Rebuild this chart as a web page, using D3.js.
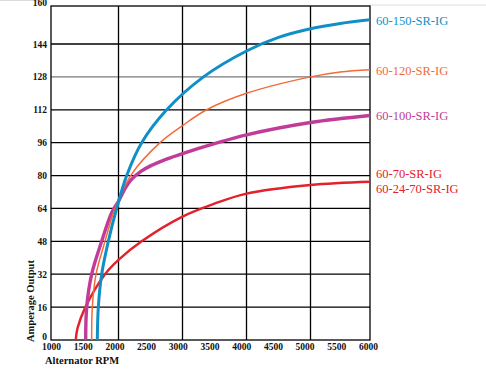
<!DOCTYPE html>
<html>
<head>
<meta charset="utf-8">
<script src="https://cdn.jsdelivr.net/npm/d3@7"></script>
<style>
  body { margin: 0; background: #fff; }
  svg { display: block; }
</style>
</head>
<body>
<script>
// Amperage output vs alternator RPM, one curve per alternator model
var rpm150 = [1686, 1701, 1751, 1849, 1973, 2128, 2362, 2753, 3328, 4000, 4500, 5000, 5500, 6000]
var amp150 = [0, 16, 32, 48, 64, 80, 96, 112, 128, 140.6, 146.5, 149.8, 151.8, 153.2]

var rpm120 = [1603, 1612, 1667, 1800, 1948, 2190, 2648, 3000, 3378, 4000, 5000, 5500, 6000]
var amp120 = [0, 16, 32, 48, 64, 80, 96, 104.3, 112, 120, 128, 130.4, 131.5]

var rpm100 = [1514, 1529, 1603, 1751, 1900, 2000, 2100, 2200, 2350, 2500, 2750, 3000, 3500, 4000, 5000, 6000]
var amp100 = [0, 16, 32, 48, 62, 67.5, 73.5, 78, 82, 84.7, 88, 90.7, 95.5, 99.8, 105.8, 109.2]

var rpm70 = [1366, 1395, 1510, 1800, 2000, 2362, 3000, 3500, 4000, 5000, 6000]
var amp70 = [0, 6, 16, 32, 39, 48, 60, 66.3, 71.2, 75.4, 77]

var seriesNames = ['60-150-SR-IG', '60-120-SR-IG', '60-100-SR-IG', '60-70-SR-IG', '60-24-70-SR-IG']
var rpmTicks = [1000, 1500, 2000, 2500, 3000, 3500, 4000, 4500, 5000, 5500, 6000]
var rpmGrid = [2000, 3000, 4000, 5000]
var ampTicks = [0, 16, 32, 48, 64, 80, 96, 112, 128, 144, 160]

var settings = {
  width: 486,
  height: 381,
  left: 51,
  right: 370,
  top: 6,
  bottom: 340
}

var svg = d3.select('body').append('svg')
    .attr('width', settings.width).attr('height', settings.height)

// grid / curves scale (the printed grid is slightly uneven)
var x = d3.scaleLinear()
    .domain([1000, 2000, 3000, 4000, 5000, 6000])
    .range([51, 118.5, 182.5, 246.5, 310.5, 370])
// tick label scale
var xLab = d3.scaleLinear().domain([1000, 6000]).range([51, 368])
var y = d3.scaleLinear().domain([0, 144, 160]).range([340, 44, 2])

// faint page rules at the very top
svg.append('line').attr('x1', 0).attr('x2', 42).attr('y1', 0.5).attr('y2', 0.5)
    .attr('stroke', '#dcdcdc').attr('stroke-width', 1)
svg.append('line').attr('x1', settings.right).attr('x2', settings.width).attr('y1', 5).attr('y2', 5)
    .attr('stroke', '#dcdcdc').attr('stroke-width', 1)

// horizontal grid lines
svg.append('g').selectAll('line')
    .data(ampTicks.filter(function(d){ return d > 0 && d < 160 }))
    .enter().append('line')
    .attr('x1', settings.left).attr('x2', settings.right)
    .attr('y1', function(d){ return y(d) }).attr('y2', function(d){ return y(d) })
    .attr('stroke', function(d){ return d == 128 ? '#7a7a7a' : '#000' })
    .attr('stroke-width', function(d){ return d == 128 ? 1.4 : 1.3 })

// vertical grid lines
svg.append('g').selectAll('line')
    .data(rpmGrid)
    .enter().append('line')
    .attr('x1', function(d){ return x(d) }).attr('x2', function(d){ return x(d) })
    .attr('y1', settings.top).attr('y2', settings.bottom)
    .attr('stroke', '#000').attr('stroke-width', 1.3)

// plot frame
svg.append('rect')
    .attr('x', settings.left).attr('y', settings.top)
    .attr('width', settings.right - settings.left).attr('height', settings.bottom - settings.top)
    .attr('fill', 'none').attr('stroke', '#000').attr('stroke-width', 1.3)

svg.append('clipPath').attr('id', 'plot-clip')
  .append('rect')
    .attr('x', settings.left).attr('y', settings.top)
    .attr('width', settings.right - settings.left).attr('height', settings.bottom - settings.top + 2)

var line = d3.line()
    .x(function(d){ return x(d[0]) })
    .y(function(d){ return y(d[1]) })
    .curve(d3.curveCatmullRom.alpha(0.5))

var curves = [
  { rpm: rpm70,  amp: amp70,  color: '#e3202b', width: 2.4 },
  { rpm: rpm100, amp: amp100, color: '#c13c98', width: 3.4 },
  { rpm: rpm120, amp: amp120, color: '#f26a3a', width: 1.5 },
  { rpm: rpm150, amp: amp150, color: '#0f8fc6', width: 3 }
]

var plot = svg.append('g').attr('clip-path', 'url(#plot-clip)')
plot.selectAll('path')
    .data(curves)
    .enter().append('path')
    .attr('d', function(c){ return line(d3.zip(c.rpm, c.amp)) })
    .attr('fill', 'none')
    .attr('stroke', function(c){ return c.color })
    .attr('stroke-width', function(c){ return c.width })

// axes
var yAxis = svg.append('g')
    .attr('transform', 'translate(' + settings.left + ',0)')
    .call(d3.axisLeft(y).tickValues(ampTicks).tickSize(0).tickPadding(4))
yAxis.select('.domain').remove()
yAxis.selectAll('text')
    .attr('font-family', '"Liberation Serif", "Times New Roman", serif')
    .attr('font-weight', 'bold').attr('font-size', '9.5px').attr('fill', '#111')
    .attr('dy', function(d){ return d == 0 ? '-0.05em' : '0.32em' })

var xAxis = svg.append('g')
    .attr('transform', 'translate(0,' + settings.bottom + ')')
    .call(d3.axisBottom(xLab).tickValues(rpmTicks).tickSize(0).tickPadding(3.5).tickFormat(d3.format('d')))
xAxis.select('.domain').remove()
xAxis.selectAll('text')
    .attr('font-family', '"Liberation Serif", "Times New Roman", serif')
    .attr('font-weight', 'bold').attr('font-size', '9.5px').attr('fill', '#111')

svg.append('text')
    .attr('x', 45).attr('y', 363.5)
    .attr('font-family', '"Liberation Serif", "Times New Roman", serif')
    .attr('font-weight', 'bold').attr('font-size', '10.5px').attr('fill', '#111')
    .text('Alternator RPM')

svg.append('text')
    .attr('transform', 'translate(33.5,342) rotate(-90)')
    .attr('font-family', '"Liberation Serif", "Times New Roman", serif')
    .attr('font-weight', 'bold').attr('font-size', '10.5px').attr('fill', '#111')
    .text('Amperage Output')

// labels at the right of each curve
var labelColors = ['#0f8fc6', '#f26a3a', '#c13c98', '#e3202b', '#e3202b']
var labelY = [24.5, 75, 120, 178, 193]
svg.append('g').selectAll('text')
    .data(seriesNames)
    .enter().append('text')
    .attr('x', 376)
    .attr('y', function(d, i){ return labelY[i] })
    .attr('fill', function(d, i){ return labelColors[i] })
    .attr('font-family', '"Liberation Serif", "Times New Roman", serif')
    .attr('font-size', '12.5px')
    .text(function(d){ return d })
</script>
</body>
</html>
